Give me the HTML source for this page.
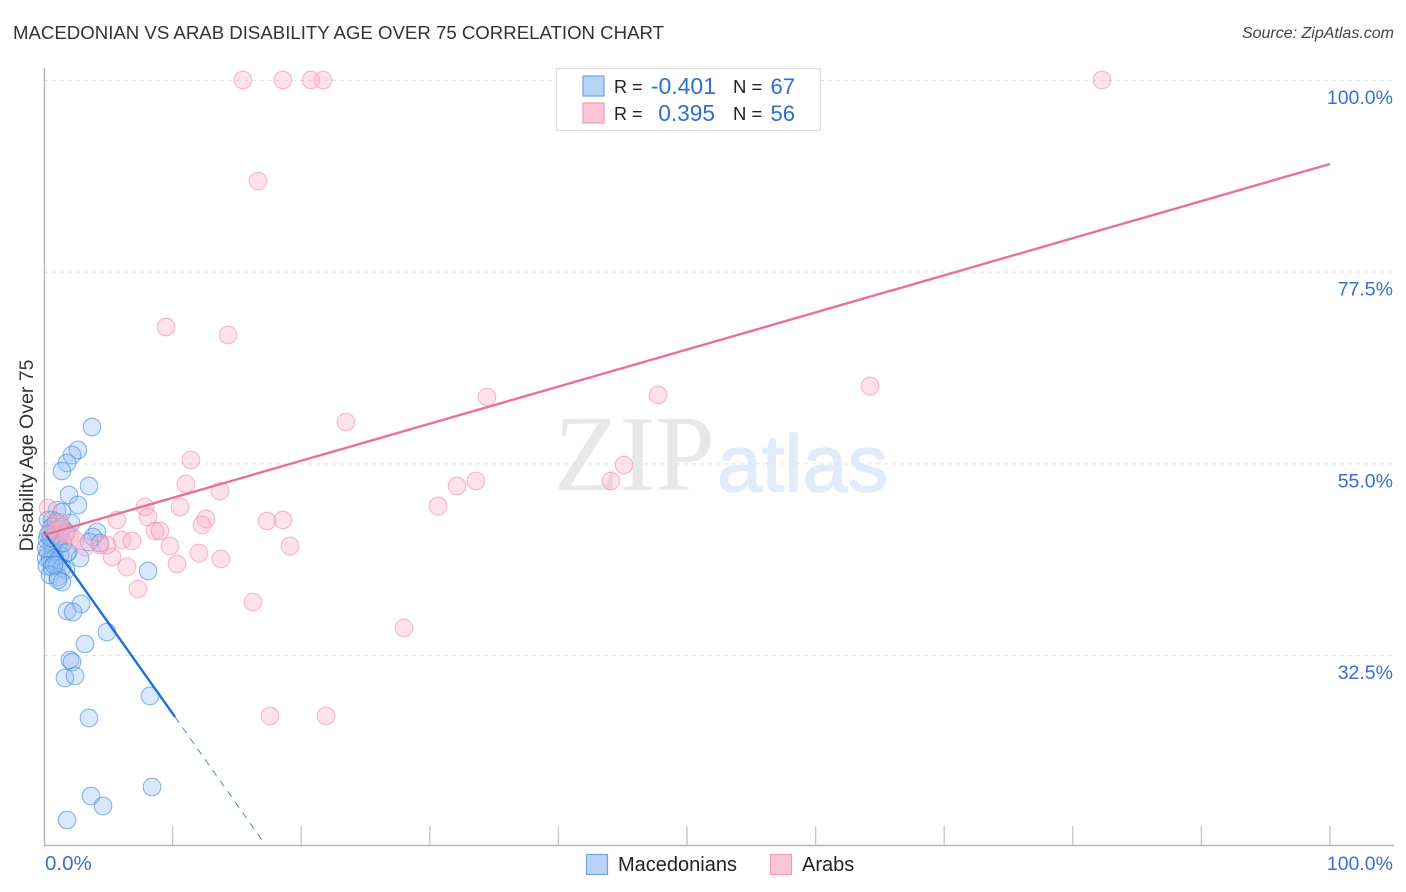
<!DOCTYPE html>
<html lang="en">
<head>
<meta charset="utf-8">
<title>Macedonian vs Arab Disability Age Over 75 Correlation Chart</title>
<style>
html,body{margin:0;padding:0;background:#fff;width:1406px;height:892px;overflow:hidden}
svg{display:block;font-family:"Liberation Sans",sans-serif}
</style>
</head>
<body>
<svg id="chart" xmlns="http://www.w3.org/2000/svg" width="1406" height="892" viewBox="0 0 1406 892">
  <rect x="0" y="0" width="1406" height="892" fill="#ffffff"/>
  <text x="13" y="39" font-size="18.5" fill="#333333" textLength="651" lengthAdjust="spacingAndGlyphs">MACEDONIAN VS ARAB DISABILITY AGE OVER 75 CORRELATION CHART</text>
  <text x="1394" y="38" font-size="16" font-style="italic" fill="#444444" text-anchor="end">Source: ZipAtlas.com</text>
  <g id="watermark">
    <text x="554" y="490" font-family="'Liberation Serif',serif" font-size="108" fill="#e8e8e8" textLength="161" lengthAdjust="spacingAndGlyphs">ZIP</text>
    <text x="717" y="491" font-size="80" fill="#e2ebf9" stroke="#e2ebf9" stroke-width="1.5" textLength="171" lengthAdjust="spacingAndGlyphs">atlas</text>
  </g>
  <g id="grid"></g>
  <g id="axes"></g>
  <g id="blue-points"></g>
  <g id="pink-points"></g>
  <g id="trend-lines"></g>
  <text transform="translate(33 455.5) rotate(-90)" font-size="19.5" fill="#333333" text-anchor="middle">Disability Age Over 75</text>

  <g>
    <rect x="556.5" y="68.5" width="264" height="62" fill="#ffffff" stroke="#dddddd" stroke-width="1.2"/>
    <rect x="583" y="76" width="21" height="20" fill="#b9d3f7" stroke="#6fa3e6" stroke-width="1.2"/>
    <text x="614" y="93" font-size="18" fill="#222222">R =</text>
    <text x="716" y="94" font-size="23" fill="#2f6fd0" text-anchor="end">-0.401</text>
    <text x="733" y="93" font-size="18.5" fill="#222222">N =</text>
    <text x="795" y="94" font-size="22" fill="#2f6fd0" text-anchor="end">67</text>
    <rect x="583" y="103" width="21" height="20" fill="#fdc5d6" stroke="#f19db8" stroke-width="1.2"/>
    <text x="614" y="120" font-size="18" fill="#222222">R =</text>
    <text x="715" y="121" font-size="22.7" fill="#2f6fd0" text-anchor="end">0.395</text>
    <text x="733" y="120" font-size="18.5" fill="#222222">N =</text>
    <text x="795" y="121" font-size="22" fill="#2f6fd0" text-anchor="end">56</text>
  </g>

  <g>
    <rect x="586.5" y="854.5" width="21" height="20" fill="#b9d3f7" stroke="#6fa3e6" stroke-width="1.2"/>
    <text x="618" y="871" font-size="20" fill="#222222">Macedonians</text>
    <rect x="770.5" y="854.5" width="21" height="20" fill="#fdc5d6" stroke="#f19db8" stroke-width="1.2"/>
    <text x="802" y="871" font-size="20" fill="#222222">Arabs</text>
  </g>
</svg>
<script>
var yTickValues = [100, 77.5, 55, 32.5];
var yTickLabels = ["100.0%", "77.5%", "55.0%", "32.5%"];
var xTickValues = [10, 20, 30, 40, 50, 60, 70, 80, 90, 100];
var xEndLabels = ["0.0%", "100.0%"];

var macedonianX = [3.73,2.64,2.18,1.79,1.40,3.50,1.94,2.64,1.01,1.40,2.10,0.62,4.12,3.81,4.35,3.50,2.80,1.79,8.09,2.88,1.79,2.26,4.90,3.19,2.02,2.18,1.63,2.41,8.24,3.50,8.40,3.65,4.59,1.79,
  0.31,0.62,0.93,0.47,0.93,1.24,0.23,0.62,1.09,0.31,0.70,0.16,0.47,0.86,1.24,1.87,0.23,0.62,1.01,1.40,1.71,0.47,1.09,1.40,1.09,0.78,0.31,0.86,1.40,1.71,0.16,0.54,1.48];
var macedonianY = [59.27,56.57,55.98,55.04,54.10,52.34,51.29,50.11,49.52,49.29,48.00,48.35,46.94,46.35,45.65,45.77,43.89,44.48,42.36,38.49,37.67,37.55,35.20,33.80,31.92,31.68,29.80,30.04,27.69,25.11,17.01,15.95,14.78,13.14,
  48.35,47.53,48.12,46.83,47.18,46.47,46.00,45.42,45.42,44.59,44.59,43.89,43.66,43.89,44.24,44.59,42.95,42.83,43.07,42.72,42.48,41.90,41.66,41.07,41.31,43.07,46.59,46.00,47.53,46.94,45.06,46.24,45.65];

var arabX = [15.47,18.58,20.76,21.70,82.27,16.64,9.49,14.31,34.45,47.75,64.23,23.48,11.43,11.04,13.69,45.10,33.59,44.09,32.12,30.64,7.85,10.58,5.68,8.09,12.60,12.29,17.34,18.58,8.63,9.02,6.07,6.84,9.80,12.05,19.13,13.76,10.34,5.29,6.45,7.31,16.25,27.99,17.57,21.93,0.31,1.09,1.40,2.02,2.41,3.19,4.35,4.90,0.86,0.47,1.24,1.71];
var arabY = [100,100,100,100,100,88.14,71.01,70.07,62.79,63.02,64.08,59.85,55.39,52.58,51.75,54.81,52.93,52.93,52.34,49.99,49.88,49.88,48.35,48.70,48.47,47.76,48.23,48.35,47.06,47.06,46.00,45.89,45.30,44.48,45.30,43.77,43.19,44.01,42.83,40.25,38.73,35.67,25.34,25.34,49.76,47.76,47.18,46.59,46.00,45.18,45.42,45.42,46.59,47.18,48.12,46.71];

var macedonianTrendX = [0, 10.19, 16.95];
var macedonianTrendY = [46.94, 25.23, 10.79];
var arabTrendX = [0, 100];
var arabTrendY = [46.59, 90.14];

var NS = "http://www.w3.org/2000/svg";
function xScale(v) { return 44 + v * 12.86; }
function yScale(v) { return 80 + (100 - v) * 8.519; }
function make(tag, attrs, parent) {
  var el = document.createElementNS(NS, tag);
  for (var k in attrs) { el.setAttribute(k, attrs[k]); }
  parent.appendChild(el);
  return el;
}

var grid = document.getElementById("grid");
yTickValues.forEach(function (v, i) {
  var line = make("line", {x1: 44, x2: 1393, y1: yScale(v) + 0.5, y2: yScale(v) + 0.5, stroke: "#e2e2e2", "stroke-width": 1, "stroke-dasharray": "4 4"}, grid);
  
  
  var label = make("text", {x: 1393, y: yScale(v) + 24, "font-size": 19.5, fill: "#3b6fd4", "text-anchor": "end"}, grid);
  label.textContent = yTickLabels[i];
  
  
});

var axes = document.getElementById("axes");
var yAxis = make("line", {x1: 44.5, x2: 44.5, y1: 68, y2: 846, stroke: "#b5b5b5", "stroke-width": 1.4}, axes);


var xAxis = make("line", {x1: 44, x2: 1394, y1: 845.5, y2: 845.5, stroke: "#b5b5b5", "stroke-width": 1.4}, axes);


xTickValues.forEach(function (v) {
  var tick = make("line", {x1: xScale(v), x2: xScale(v), y1: 826, y2: 845, stroke: "#c8c8c8", "stroke-width": 1.4}, axes);
  
  
});
var xMin = make("text", {x: 45, y: 870, "font-size": 20.5, fill: "#3b6fd4"}, axes);
xMin.textContent = xEndLabels[0];


var xMax = make("text", {x: 1393, y: 870, "font-size": 19.5, fill: "#3b6fd4", "text-anchor": "end"}, axes);
xMax.textContent = xEndLabels[1];



var bluePoints = document.getElementById("blue-points");
macedonianX.forEach(function (v, i) {
  var c = make("circle", {cx: xScale(v), cy: yScale(macedonianY[i]), r: 8.8, fill: "rgba(150,190,240,0.36)", stroke: "rgba(70,140,225,0.62)", "stroke-width": 1.1}, bluePoints);
  
  
});

var pinkPoints = document.getElementById("pink-points");
arabX.forEach(function (v, i) {
  var c = make("circle", {cx: xScale(v), cy: yScale(arabY[i]), r: 8.8, fill: "rgba(250,175,200,0.36)", stroke: "rgba(240,145,175,0.62)", "stroke-width": 1.1}, pinkPoints);
  
  
});

var trends = document.getElementById("trend-lines");
var blueSolid = make("line", {x1: xScale(macedonianTrendX[0]), y1: yScale(macedonianTrendY[0]), x2: xScale(macedonianTrendX[1]), y2: yScale(macedonianTrendY[1]), stroke: "#1f6fd8", "stroke-width": 2.4}, trends);


var blueDash = make("line", {x1: xScale(macedonianTrendX[1]), y1: yScale(macedonianTrendY[1]), x2: xScale(macedonianTrendX[2]), y2: yScale(macedonianTrendY[2]), stroke: "#3f7fdc", "stroke-width": 0.9, "stroke-dasharray": "7 6"}, trends);


var pinkLine = make("line", {x1: xScale(arabTrendX[0]), y1: yScale(arabTrendY[0]), x2: xScale(arabTrendX[1]), y2: yScale(arabTrendY[1]), stroke: "#e8709c", "stroke-width": 2.4}, trends);


</script>
</body>
</html>
